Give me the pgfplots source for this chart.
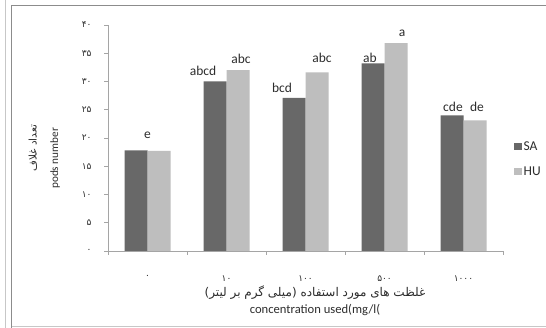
\documentclass[border=0pt]{standalone}
\usepackage{fontspec}
\setmainfont{Carlito}
\newfontfamily\arabicfont[Script=Arabic]{DejaVu Sans}
\TeXXeTstate=1
\usepackage{pgfplots}
\usepackage{pgfplotstable}
\pgfplotsset{compat=1.18}
\definecolor{sacol}{RGB}{104,104,104}
\definecolor{hucol}{RGB}{190,190,190}
\definecolor{axcol}{RGB}{165,165,165}
\definecolor{txtcol}{RGB}{45,45,45}

\pgfplotstableread{
x y lab dx dy
0 17.8 e 11.5 12
1 30.0 abcd -12 5.7
2 27.1 bcd -12 5.7
3 33.2 ab -3 1
4 24.0 cde 1 3.7
}\sadata
\pgfplotstableread{
x y lab dx dy
0 17.7 {} 0 0
1 32.0 abc 3 7
2 31.6 abc 5 9.7
3 36.8 a 6 6.6
4 23.1 de 2 8.7
}\hudata

\begin{document}
\begin{tikzpicture}
\useasboundingbox (0,0) rectangle (546pt,328pt);
\fill[white] (0,0) rectangle (546pt,328pt);
\draw[black!22, line width=1pt] (5.5pt,0) -- (5.5pt,328pt);
\draw[black!45, line width=1pt] (11.5pt,0) -- (11.5pt,322pt) -- (546pt,322pt);
\draw[black!22, line width=1pt] (11.5pt,1.5pt) -- (546pt,1.5pt);
\begin{axis}[
  at={(108pt,77pt)}, anchor=south west,
  scale only axis, width=395pt, height=226pt,
  xmin=-0.5, xmax=4.5, ymin=0, ymax=40,
  ybar=0pt, bar width=23pt,
  axis x line*=bottom, axis y line*=left,
  axis line style={draw=axcol, line width=0.8pt, -},
  tick align=outside,
  xtick={0,1,2,3,4},
  xticklabels={۰,۱۰,۱۰۰,۵۰۰,۱۰۰۰},
  major x tick style={draw=none},
  minor xtick={-0.5,0.5,1.5,2.5,3.5,4.5},
  minor tick length=4pt,
  minor x tick style={draw=axcol, line width=0.8pt},
  ytick={0,5,...,40},
  yticklabels={۰,۵,۱۰,۱۵,۲۰,۲۵,۳۰,۳۵,۴۰},
  major tick length=4pt,
  y tick style={draw=axcol, line width=0.8pt},
  xticklabel style={font=\arabicfont\fontsize{9}{10}\selectfont, text=txtcol, yshift=-17pt},
  yticklabel style={font=\arabicfont\fontsize{9}{10}\selectfont, text=txtcol, xshift=-9pt},
  legend style={at={(1.02,0.407)}, anchor=west, draw=none, fill=none,
    font=\fontsize{13.5}{15}\selectfont, text=txtcol, row sep=11pt},
  legend cell align=left,
  legend image code/.code={\fill[#1, draw=none] (0pt,-3.8pt) rectangle (7.5pt,3.8pt);},
  nodes near coords,
  point meta=explicit symbolic,
  visualization depends on={\thisrow{dx} \as \labdx},
  visualization depends on={\thisrow{dy} \as \labdy},
  nodes near coords style={anchor=base, xshift=\labdx pt, yshift=\labdy pt,
    font=\fontsize{13.5}{15}\selectfont, text=txtcol},
  clip=false,
]
\addplot[fill=sacol, draw=none] table[x=x, y=y, meta=lab]{\sadata};
\addplot[fill=hucol, draw=none] table[x=x, y=y, meta=lab]{\hudata};
\legend{SA,HU}
\node[text=txtcol, font=\arabicfont\fontsize{12}{13}\selectfont] at (rel axis cs:0.524,-0.186) {\beginR غلظت های مورد استفاده (میلی گرم بر لیتر)\endR};
\node[text=txtcol, font=\fontsize{12.6}{14}\selectfont] at (rel axis cs:0.524,-0.261) {concentration used(mg/l(};
\node[text=txtcol, rotate=90, font=\arabicfont\fontsize{10.5}{12}\selectfont] at (rel axis cs:-0.190,0.455) {\beginR تعداد غلاف\endR};
\node[text=txtcol, rotate=90, font=\fontsize{11.2}{13}\selectfont] at (rel axis cs:-0.134,0.41) {pods number};
\end{axis}
\end{tikzpicture}
\end{document}
